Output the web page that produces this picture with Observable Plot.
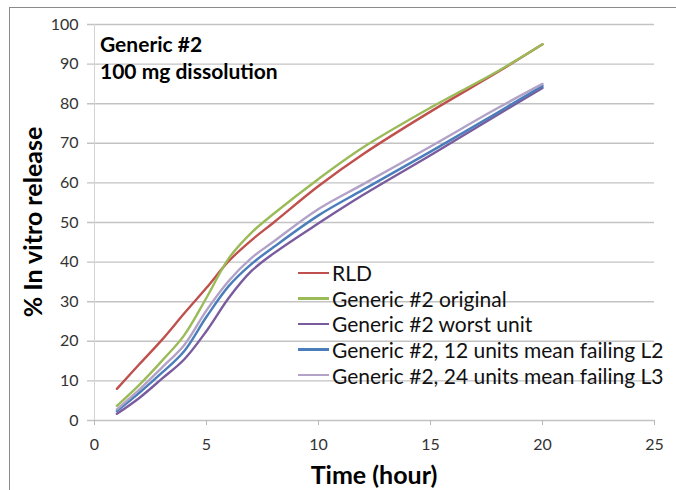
<!DOCTYPE html>
<html>
<head>
<meta charset="utf-8">
<script src="https://cdn.jsdelivr.net/npm/d3@7"></script>
<script src="https://cdn.jsdelivr.net/npm/@observablehq/plot@0.6"></script>
<style>
  html, body { margin: 0; padding: 0; background: #fff; }
  #wrap { position: relative; width: 676px; height: 490px; overflow: hidden; font-family: Lato, "Open Sans", sans-serif; }
  #frame { position: absolute; left: 9px; top: 7px; width: 800px; height: 600px; border-left: 1px solid #8a8a8a; border-top: 1px solid #8a8a8a; }
  .ttl { position: absolute; font-weight: bold; font-size: 21px; color: #000; white-space: nowrap; line-height: 1; }
  #ytitle { position: absolute; left: 32px; top: 222px; transform: translate(-50%, -50%) rotate(-90deg); font-weight: bold; font-size: 25px; white-space: nowrap; line-height: 1; }
  #xtitle { position: absolute; left: 374px; top: 474px; transform: translate(-50%, -50%); font-weight: bold; font-size: 25px; white-space: nowrap; line-height: 1; }
  #legend { position: absolute; left: 298px; top: 260px; }
  .row { display: flex; align-items: center; height: 25.6px; font-size: 21px; color: #111; white-space: nowrap; }
  .sw { display: inline-block; width: 31px; height: 2.5px; margin-right: 3px; }
  svg { position: absolute; left: 0; top: 0; }
</style>
</head>
<body>
<div id="wrap"></div>
<script>
// ---- data ----
const hours = [1, 2, 3, 4, 5, 6, 7, 8, 10, 12, 15, 18, 20];
const rld      = [8.0, 14.2, 20.3, 27.0, 33.5, 40.3, 45.5, 50.0, 59.2, 67.3, 78.0, 88.0, 95.0];
const original = [3.7, 9.0, 15.0, 21.5, 31.0, 41.0, 47.4, 52.2, 61.0, 69.0, 79.0, 88.2, 95.0];
const worst    = [1.7, 5.7, 10.5, 15.4, 22.6, 31.0, 37.7, 42.2, 49.8, 57.0, 67.0, 77.2, 84.0];
const meanL2   = [2.4, 7.0, 12.0, 17.5, 26.2, 34.0, 39.5, 43.8, 51.8, 58.3, 67.9, 77.8, 84.5];
const meanL3   = [2.8, 7.8, 13.3, 19.0, 27.8, 35.3, 41.0, 45.2, 53.4, 59.7, 69.2, 78.9, 85.0];

const seriesNames = ["RLD", "Generic #2 original", "Generic #2 worst unit",
  "Generic #2, 12 units mean failing L2", "Generic #2, 24 units mean failing L3"];
const seriesValues = [rld, original, worst, meanL2, meanL3];
const seriesColors = ["#c0504d", "#9bbb59", "#7a5c9e", "#4a7ebb", "#b3a2c7"];

const xTicks = [0, 5, 10, 15, 20, 25];
const yTicks = [0, 10, 20, 30, 40, 50, 60, 70, 80, 90, 100];
const titleLines = ["Generic #2", "100 mg dissolution"];
const xTitle = "Time (hour)";
const yTitle = "% In vitro release";

// ---- table built from the arrays ----
const rows = [];
seriesNames.forEach((name, i) => {
  hours.forEach((h, j) => rows.push({series: name, hour: h, value: seriesValues[i][j]}));
});

const chart = Plot.plot({
  width: 676,
  height: 490,
  marginLeft: 94,
  marginRight: 22,
  marginTop: 24,
  marginBottom: 70,
  style: {fontFamily: "Lato, 'Open Sans', sans-serif", fontSize: "16px", background: "transparent"},
  x: {domain: [0, 25], ticks: xTicks, label: null},
  y: {domain: [0, 100], ticks: yTicks, label: null},
  color: {domain: seriesNames, range: seriesColors},
  marks: [
    Plot.ruleY(yTicks, {stroke: "#c3c3c3", strokeWidth: 1.4, insetLeft: -7}),
    Plot.ruleX([0], {stroke: "#d4d4d4", strokeWidth: 1, insetBottom: -5}),
    Plot.axisY({ticks: yTicks, tickSize: 0, tickPadding: 16, fill: "#333", stroke: null, fontSize: 16}),
    Plot.axisX({ticks: xTicks, tickSize: 5, tickPadding: 13, stroke: "#b8b8b8", fill: "#333", fontSize: 16}),
    Plot.line(rows, {x: "hour", y: "value", z: "series", stroke: "series", strokeWidth: 2.4, curve: "catmull-rom"})
  ]
});

const wrap = document.getElementById("wrap");
const frame = document.createElement("div");
frame.id = "frame";
wrap.appendChild(frame);
wrap.appendChild(chart);

titleLines.forEach((t, i) => {
  const d = document.createElement("div");
  d.className = "ttl";
  d.textContent = t;
  d.style.left = "100px";
  d.style.top = (33 + i * 27) + "px";
  wrap.appendChild(d);
});

const yt = document.createElement("div");
yt.id = "ytitle"; yt.textContent = yTitle; wrap.appendChild(yt);
const xt = document.createElement("div");
xt.id = "xtitle"; xt.textContent = xTitle; wrap.appendChild(xt);

const lg = document.createElement("div");
lg.id = "legend";
seriesNames.forEach((name, i) => {
  const r = document.createElement("div");
  r.className = "row";
  const sw = document.createElement("span");
  sw.className = "sw";
  sw.style.background = seriesColors[i];
  const tx = document.createElement("span");
  tx.textContent = name;
  r.appendChild(sw); r.appendChild(tx);
  lg.appendChild(r);
});
wrap.appendChild(lg);
</script>
</body>
</html>
